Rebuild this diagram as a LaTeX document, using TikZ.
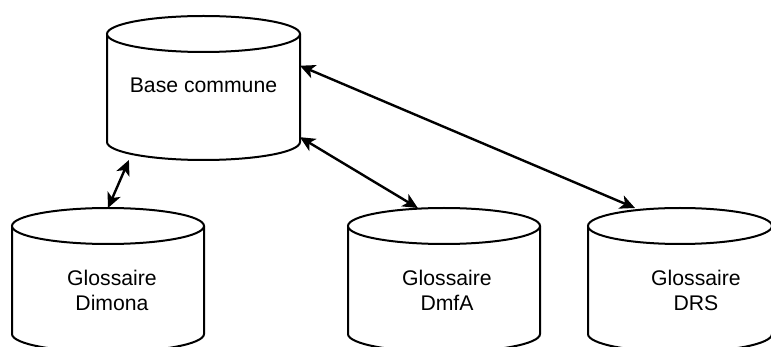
\documentclass[tikz,border=0pt]{standalone}
\usepackage{fontspec}
\setmainfont{Liberation Sans}
\usetikzlibrary{arrows.meta}
\tikzset{
  dbbox/.style={rectangle, inner sep=0pt, outer sep=0pt, minimum height=72pt},
  dbline/.style={line width=1pt, fill=white},
  dbtext/.style={align=center, font=\fontsize{10.6}{12.5}\selectfont},
  link/.style={line width=1.2pt, {Stealth[length=7.5pt,width=7pt,inset=2pt]}-{Stealth[length=7.5pt,width=7pt,inset=2pt]}}
}
\begin{document}
\begin{tikzpicture}[x=0.5pt, y=0.5pt]
\path[use as bounding box, fill=white] (0,0) rectangle (771,-347);
\clip (0,0) rectangle (771,-347);
% cylinder boxes
\node[dbbox, minimum width=96.5pt] (base) at (203.5,-88) {};
\node[dbbox, minimum width=96pt] (dimona) at (108,-280) {};
\node[dbbox, minimum width=96pt] (dmfa) at (444,-280) {};
\node[dbbox, minimum width=92pt] (drs) at (680,-280) {};
% cylinder outlines
\draw[dbline] ([yshift=-9pt]base.north west) -- ([yshift=9pt]base.south west) arc[start angle=180, end angle=360, x radius=96.5, y radius=18] -- ([yshift=-9pt]base.north east);\draw[dbline] ([yshift=-9pt]base.north) ellipse[x radius=96.5, y radius=18];
\draw[dbline] ([yshift=-9pt]dimona.north west) -- ([yshift=9pt]dimona.south west) arc[start angle=180, end angle=360, x radius=96, y radius=18] -- ([yshift=-9pt]dimona.north east);\draw[dbline] ([yshift=-9pt]dimona.north) ellipse[x radius=96, y radius=18];
\draw[dbline] ([yshift=-9pt]dmfa.north west) -- ([yshift=9pt]dmfa.south west) arc[start angle=180, end angle=360, x radius=96, y radius=18] -- ([yshift=-9pt]dmfa.north east);\draw[dbline] ([yshift=-9pt]dmfa.north) ellipse[x radius=96, y radius=18];
\draw[dbline] ([yshift=-9pt]drs.north west) -- ([yshift=9pt]drs.south west) arc[start angle=180, end angle=360, x radius=92, y radius=18] -- ([yshift=-9pt]drs.north east);\draw[dbline] ([yshift=-9pt]drs.north) ellipse[x radius=92, y radius=18];
% labels
\node[dbtext] (base-txt) at ([yshift=1.5pt]base.center) {Base commune};
\node[dbtext] (dimona-txt) at ([xshift=2pt,yshift=-5pt]dimona.center) {Glossaire\\Dimona};
\node[dbtext] (dmfa-txt) at ([xshift=1.5pt,yshift=-5pt]dmfa.center) {Glossaire\\DmfA};
\node[dbtext] (drs-txt) at ([xshift=8pt,yshift=-5pt]drs.center) {Glossaire\\DRS};
% links
\draw[link] (base.224) -- (dimona.north);
\draw[link] (base.-27) -- (dmfa.110);
\draw[link] (base.13) -- (drs.122);
\end{tikzpicture}
\end{document}
